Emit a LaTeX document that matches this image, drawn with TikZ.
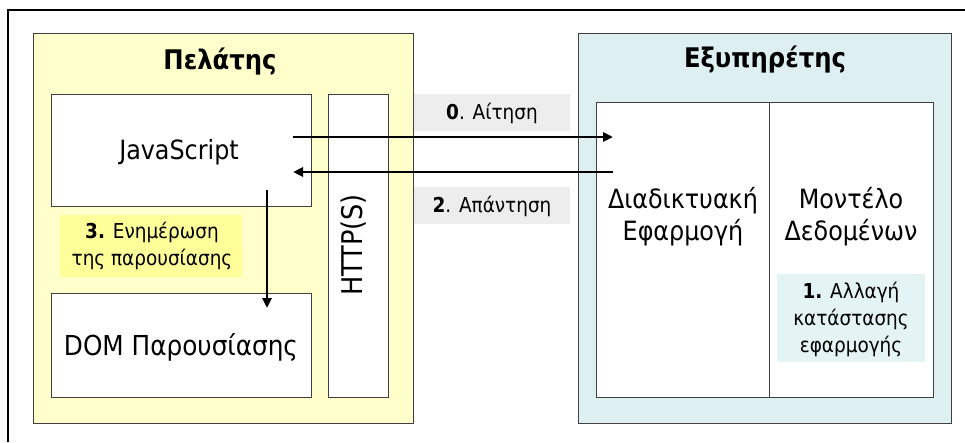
\documentclass[tikz,border=0pt]{standalone}
\usepackage{fontspec}
\setmainfont{DejaVu Sans Condensed}
\usetikzlibrary{arrows.meta}
\definecolor{clientbg}{HTML}{FFFFCC}
\definecolor{serverbg}{HTML}{DDEFF0}
\definecolor{yellowlbl}{HTML}{FFFF99}
\definecolor{graylbl}{HTML}{EDEDED}
\definecolor{cyanlbl}{HTML}{E4F3F3}
\definecolor{edge}{HTML}{404040}
\begin{document}
\begin{tikzpicture}[x=1pt,y=-1pt,
  frame/.style={draw=black,line width=2pt},
  panel/.style={draw=edge,line width=1pt,anchor=north west,inner sep=0pt,outer sep=0pt},
  box/.style={draw=edge,line width=1pt,fill=white,anchor=north west,inner sep=0pt,outer sep=0pt},
  lbl/.style={anchor=north west,inner sep=0pt,outer sep=0pt},
  txt/.style={font=\fontsize{26.5}{32}\selectfont,align=center,inner sep=0pt},
  ttl/.style={font=\bfseries\fontsize{27}{30}\selectfont,inner sep=0pt},
  small/.style={font=\fontsize{20.5}{27}\selectfont,align=center,inner sep=0pt},
  flow/.style={line width=2.5pt,-{Triangle[length=10pt,width=9pt]}},
]
\fill[white] (0,0) rectangle (965,442);
\useasboundingbox (0,0) rectangle (965,442);
\draw[frame] (8,442) -- (8,10) -- (965,10);

% client
\node[panel,fill=clientbg,minimum width=380pt,minimum height=390pt] (client) at (33,33) {};
\node[ttl] (clientt) at (220,62) {Πελάτης};
\node[box,minimum width=260pt,minimum height=112pt] (js) at (51,94) {};
\node[txt] (jst) at (179,152) {JavaScript};
\node[box,minimum width=60pt,minimum height=303pt] (http) at (328,94) {};
\node[txt,font=\fontsize{28.5}{32}\selectfont,rotate=90] (httpt) at (354,245) {HTTP(S)};
\node[box,minimum width=260pt,minimum height=104pt] (dom) at (51,293) {};
\node[txt,font=\fontsize{27.5}{32}\selectfont] (domt) at (181,347) {DOM Παρουσίασης};
\node[lbl,fill=yellowlbl,minimum width=182pt,minimum height=62pt] (l3) at (60,215) {};
\node[small] (l3t) at (152,246) {\textbf{3.} Ενημέρωση\\της παρουσίασης};

% server
\node[panel,fill=serverbg,minimum width=373pt,minimum height=390pt] (server) at (578,33) {};
\node[ttl] (servert) at (765,60) {Εξυπηρέτης};
\node[box,minimum width=173pt,minimum height=295pt] (web) at (596,102) {};
\node[box,minimum width=164pt,minimum height=295pt] (model) at (769,102) {};
\node[txt] (webt) at (683,217) {Διαδικτυακή\\Εφαρμογή};
\node[txt] (modelt) at (851,217) {Μοντέλο\\Δεδομένων};
\node[lbl,fill=cyanlbl,minimum width=148pt,minimum height=88pt] (l1) at (777,274) {};
\node[small] (l1t) at (851,319) {\textbf{1.} Αλλαγή\\κατάστασης\\εφαρμογής};

% request / response labels
\node[lbl,fill=graylbl,minimum width=156pt,minimum height=37pt] (l0) at (414,94) {};
\node[small] (l0t) at (492,113) {\textbf{0}. Αίτηση};
\node[lbl,fill=graylbl,minimum width=156pt,minimum height=37pt] (l2) at (414,187) {};
\node[small] (l2t) at (492,206) {\textbf{2}. Απάντηση};

% arrows
\coordinate (p0s) at (293,137);
\coordinate (p0e) at (613,137);
\coordinate (p2s) at (613,172);
\coordinate (p2e) at (293,172);
\coordinate (p3s) at (267,190);
\coordinate (p3e) at (267,308);
\draw[flow] (p0s) -- (p0e);
\draw[flow] (p2s) -- (p2e);
\draw[flow] (p3s) -- (p3e);
\end{tikzpicture}
\end{document}
